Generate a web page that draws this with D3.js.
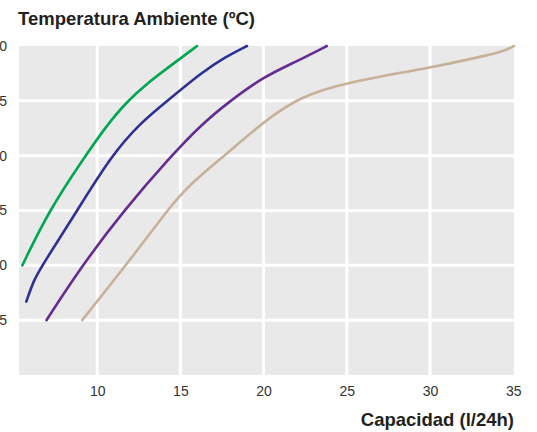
<!DOCTYPE html>
<html>
<head>
<meta charset="utf-8">
<script src="https://cdn.jsdelivr.net/npm/d3@7"></script>
<style>
  body { margin: 0; background: #fff; }
  svg { display: block; font-family: "Liberation Sans", Arial, sans-serif; }
</style>
</head>
<body>
<div id="chart"></div>
<script>
    // ticks
    const xTicks = [10, 15, 20, 25, 30, 35];
    const yTicks = [5, 10, 15, 20, 25, 30];

    // curvas (capacidad l/24h, temperatura ºC)
    const greenCap  = [5.5, 7.1, 9.3, 10.5, 11.7, 13.0, 14.5, 16.0];
    const greenTemp = [10, 15, 20, 22.6, 24.8, 26.6, 28.3, 30];

    const blueCap  = [5.74, 6.2, 6.7, 8.8, 10.85, 12.6, 14.3, 16.3, 17.7, 19.0];
    const blueTemp = [6.7, 8.7, 10, 15, 20, 23, 25.1, 27.6, 29.0, 30];

    const purpleCap  = [6.95, 9.1, 11.6, 14.4, 16.3, 18.0, 20.0, 22.0, 23.8];
    const purpleTemp = [5, 10, 15, 19.9, 22.9, 25, 27.2, 28.6, 30];

    const tanCap  = [9.1, 12.5, 14.3, 15.5, 17.65, 20.0, 22.2, 25.0, 30.0, 33.0, 34.4, 35.05];
    const tanTemp = [5, 11.5, 15.2, 17.3, 20, 23.1, 25.4, 26.7, 28.0, 29.0, 29.5, 30];

    const series = [
        {color: "#00a651", cap: greenCap, temp: greenTemp},
        {color: "#2e3192", cap: blueCap, temp: blueTemp},
        {color: "#662d91", cap: purpleCap, temp: purpleTemp},
        {color: "#c7b299", cap: tanCap, temp: tanTemp}
    ];

    const W = 537, H = 432;
    const pLeft = 19, pRight = 514, pTop = 46, pBottom = 375;

    const x = d3.scaleLinear().domain([5.3, 35.05]).range([pLeft, pRight]);
    const y = d3.scaleLinear().domain([0, 30]).range([pBottom, pTop]);

    const svg = d3.select("#chart").append("svg")
        .attr("width", W)
        .attr("height", H);

    // fondo del panel
    svg.append("rect")
        .attr("x", pLeft)
        .attr("y", pTop)
        .attr("width", pRight - pLeft)
        .attr("height", pBottom - pTop)
        .attr("fill", "#e9e9e9");

    // rejilla
    svg.selectAll(".vgrid")
        .data(xTicks.filter(d => d < 35))
        .enter().append("line")
        .attr("class", "vgrid")
        .attr("x1", d => x(d)).attr("x2", d => x(d))
        .attr("y1", pTop).attr("y2", pBottom)
        .attr("stroke", "#fff")
        .attr("stroke-width", 3);

    svg.selectAll(".hgrid")
        .data(yTicks.filter(d => d < 30))
        .enter().append("line")
        .attr("class", "hgrid")
        .attr("x1", pLeft).attr("x2", pRight)
        .attr("y1", d => y(d)).attr("y2", d => y(d))
        .attr("stroke", "#fff")
        .attr("stroke-width", 3);

    // ejes
    const xAxis = svg.append("g")
        .attr("transform", "translate(0," + pBottom + ")")
        .call(d3.axisBottom(x).tickValues(xTicks).tickSize(0).tickPadding(11));
    xAxis.select(".domain").remove();
    xAxis.selectAll("text")
        .style("font-size", "14px")
        .attr("fill", "#333");

    // las etiquetas del eje Y quedan recortadas por el borde, como en el original
    const yAxis = svg.append("g")
        .attr("transform", "translate(" + pLeft + ",0)")
        .call(d3.axisLeft(y).tickValues(yTicks).tickSize(0).tickPadding(12));
    yAxis.select(".domain").remove();
    yAxis.selectAll("text")
        .style("font-size", "14px")
        .attr("fill", "#333");

    // curvas
    const line = d3.line()
        .x(d => x(d[0]))
        .y(d => y(d[1]))
        .curve(d3.curveBasis);

    svg.selectAll(".curve")
        .data(series)
        .enter().append("path")
        .attr("class", "curve")
        .attr("d", s => line(s.cap.map((c, i) => [c, s.temp[i]])))
        .attr("fill", "none")
        .attr("stroke", s => s.color)
        .attr("stroke-width", 2.6)
        .attr("stroke-linecap", "round");

    // titulos
    svg.append("text")
        .attr("x", 18)
        .attr("y", 25)
        .style("font-size", "18.5px")
        .style("font-weight", "bold")
        .attr("fill", "#231f20")
        .text("Temperatura Ambiente (ºC)");

    svg.append("text")
        .attr("x", 514)
        .attr("y", 426)
        .attr("text-anchor", "end")
        .style("font-size", "18.5px")
        .style("font-weight", "bold")
        .attr("fill", "#231f20")
        .text("Capacidad (l/24h)");
</script>
</body>
</html>
